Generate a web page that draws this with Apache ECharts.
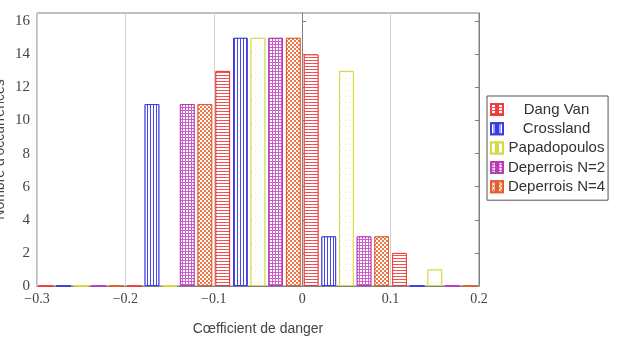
<!DOCTYPE html>
<html><head><meta charset="utf-8">
<script src="https://cdn.jsdelivr.net/npm/echarts@6/dist/echarts.min.js"></script>
<style>html,body{margin:0;padding:0;background:#fff}#c{width:617px;height:338px}</style>
</head><body><div id="c"></div>
<script>
// ---- data ----
const binCenters = [-0.25, -0.15, -0.05, 0.05, 0.15];
const seriesNames = ['Dang Van', 'Crossland', 'Papadopoulos', 'Deperrois N=2', 'Deperrois N=4'];
const dangVan = [0, 0, 13, 14, 2];
const crossland = [0, 11, 15, 3, 0];
const papadopoulos = [0, 0, 15, 13, 1];
const deperrois2 = [0, 11, 15, 3, 0];
const deperrois4 = [0, 11, 15, 3, 0];
const yTicks = [0, 2, 4, 6, 8, 10, 12, 14, 16];
const xTicks = [-0.3, -0.2, -0.1, 0, 0.1, 0.2];
const xLabel = 'Cœfficient de danger';
const yLabel = "Nombre d'occurrences";

// ---- styles ----
const values = [dangVan, crossland, papadopoulos, deperrois2, deperrois4];
const styles = [
  { border: '#f03c3c', decal: { symbol: 'rect', symbolSize: 1, color: '#f05050', backgroundColor: '#fff', dashArrayX: [1, 0], dashArrayY: [1, 2] } },
  { border: '#3a3ae0', decal: { symbol: 'rect', symbolSize: 1, color: '#4848e8', backgroundColor: '#fff', dashArrayX: [1, 2], dashArrayY: [1, 0] } },
  { border: '#d8d844', decal: { symbol: 'rect', symbolSize: 1, color: '#ececb4', backgroundColor: '#fff', dashArrayX: [1, 4], dashArrayY: [1, 5] } },
  { border: '#b83cb8', decal: { symbol: 'rect', symbolSize: 1, color: '#fff', backgroundColor: '#c860c8', dashArrayX: [2, 1], dashArrayY: [2, 1] } },
  { border: '#e0602c', decal: { symbol: 'rect', symbolSize: 1, color: '#ee7a4a', backgroundColor: '#fff', dashArrayX: [[2, 2], [0, 2, 2, 0]], dashArrayY: [2, 0] } }
];

const fmtNum = v => {
  const r = Math.round(v * 10) / 10;
  const s = Math.abs(r).toString();
  return r < 0 ? '\u2212' + s : s;
};

const series = seriesNames.map((name, k) => ({
  name: name,
  type: 'bar',
  barWidth: 14.7,
  barGap: '20%',
  data: binCenters.map((x, i) => [x, values[k][i]]),
  itemStyle: { color: '#fff', borderColor: styles[k].border, borderWidth: 1, decal: styles[k].decal },
  emphasis: { disabled: true }
}));

const chart = echarts.init(document.getElementById('c'));
chart.setOption({
  animation: false,
  grid: { left: 37, right: 138, top: 13, bottom: 52, containLabel: false, outerBoundsMode: 'none',
          show: true, borderColor: '#808080', borderWidth: 1, backgroundColor: 'transparent' },
  xAxis: {
    type: 'value', min: xTicks[0], max: xTicks[xTicks.length - 1], interval: 0.1,
    name: xLabel, nameLocation: 'middle', nameGap: 36, nameMoveOverlap: false,
    nameTextStyle: { fontFamily: 'Liberation Sans', fontSize: 14, color: '#444' },
    axisLine: { show: true, lineStyle: { color: '#808080' } },
    axisTick: { show: false },
    splitLine: { show: true, lineStyle: { color: '#d0d0d0', width: 1 } },
    axisLabel: { formatter: fmtNum, fontFamily: 'Liberation Serif', fontSize: 14, color: '#444', margin: 6 }
  },
  yAxis: [{
    type: 'value', min: 0, max: 16.5, interval: 2, position: 'left',
    name: yLabel, nameLocation: 'middle', nameGap: 30, nameMoveOverlap: false,
    nameTextStyle: { fontFamily: 'Liberation Sans', fontSize: 14, color: '#444' },
    axisLine: { show: true, lineStyle: { color: '#808080' } },
    axisTick: { show: true, inside: true, length: 4, customValues: yTicks, lineStyle: { color: '#808080' } },
    axisLabel: { customValues: yTicks, fontFamily: 'Liberation Serif', fontSize: 15, color: '#444', margin: 7 },
    splitLine: { show: false }
  }, {
    type: 'value', min: 0, max: 16.5, interval: 2, position: 'right',
    axisLine: { show: true, lineStyle: { color: '#808080' } },
    axisTick: { show: true, inside: true, length: 4, customValues: yTicks, lineStyle: { color: '#808080' } },
    axisLabel: { show: false },
    splitLine: { show: false }
  }],
  legend: {
    data: seriesNames, orient: 'vertical', left: 487, top: 96,
    backgroundColor: '#fff', borderColor: '#555', borderWidth: 1, borderRadius: 0,
    padding: [6, 3, 6, 3], itemGap: 4.3, itemWidth: 13, itemHeight: 11,
    icon: 'path://M0,0h5v11h-5z M7,0h5v11h-5z',
    selectedMode: false,
    formatter: n => '{a|' + n + '}',
    textStyle: { rich: { a: { width: 96, align: 'center', fontFamily: 'Liberation Sans', fontSize: 15, lineHeight: 15, color: '#333' } } }
  },
  series: series
});
</script>
</body></html>
